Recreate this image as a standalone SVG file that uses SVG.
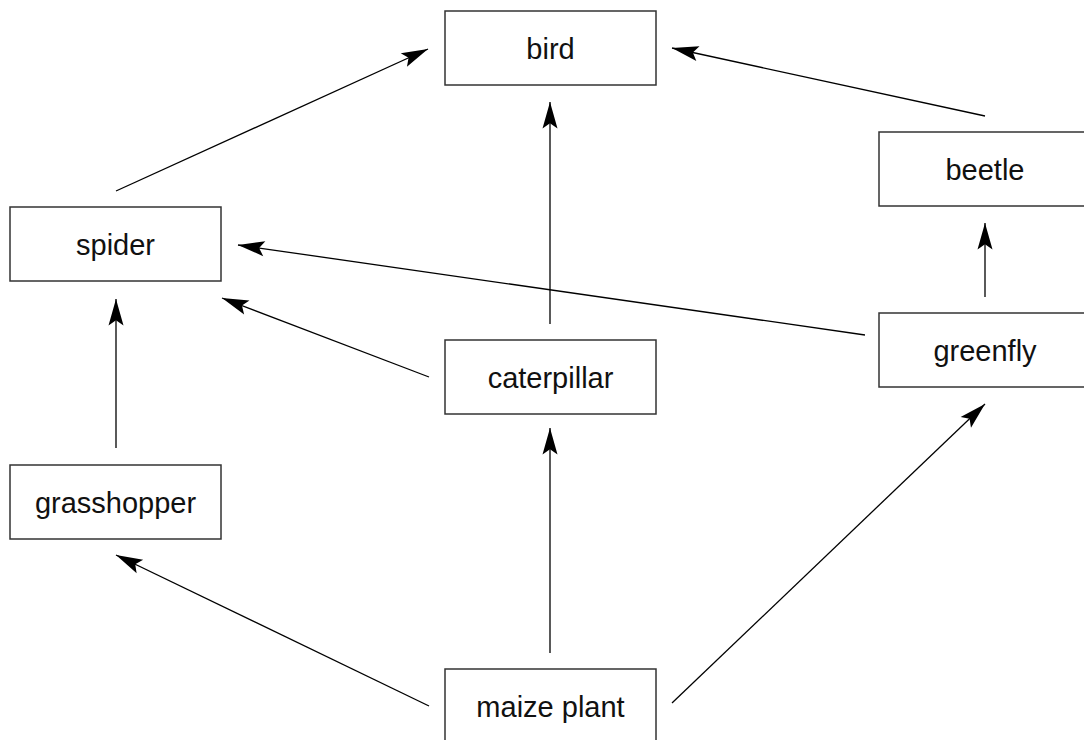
<svg xmlns="http://www.w3.org/2000/svg" width="1084" height="740" viewBox="0 0 1084 740">
<style>
.box{fill:#fff;stroke:#333;stroke-width:1.5}
.lbl{font-family:"Liberation Sans",Arial,Helvetica,sans-serif;font-size:29px;fill:#111;text-anchor:middle}
.edge{stroke:#000;stroke-width:1.3;fill:none;marker-end:url(#ah)}
</style>
<defs>
<marker id="ah" markerUnits="userSpaceOnUse" markerWidth="30" markerHeight="20" viewBox="-24 -8 26 16" refX="0" refY="0" orient="auto">
<path d="M0,0 L-23,-6.5 L-18.5,0 L-23,6.5 z" fill="#000"/>
</marker>
</defs>
<rect width="1084" height="740" fill="#fff"/>
<g id="connectors">
<line class="edge" x1="116" y1="191" x2="428" y2="49"/>
<line class="edge" x1="985" y1="116" x2="672" y2="48"/>
<line class="edge" x1="550" y1="324" x2="550" y2="102"/>
<line class="edge" x1="865" y1="335" x2="238" y2="245"/>
<line class="edge" x1="429" y1="377" x2="222" y2="298"/>
<line class="edge" x1="116" y1="448" x2="116" y2="299"/>
<line class="edge" x1="985" y1="297" x2="985" y2="223"/>
<line class="edge" x1="429" y1="706" x2="116" y2="555"/>
<line class="edge" x1="550" y1="653" x2="550" y2="428"/>
<line class="edge" x1="672" y1="703" x2="985" y2="404"/>
</g>
<g id="bird"><rect class="box" x="445" y="11" width="211" height="74"/><text class="lbl" x="550.5" y="58.5">bird</text></g>
<g id="spider"><rect class="box" x="10" y="207" width="211" height="74"/><text class="lbl" x="115.5" y="254.5">spider</text></g>
<g id="beetle"><rect class="box" x="879" y="132" width="212" height="74"/><text class="lbl" x="985" y="179.5">beetle</text></g>
<g id="greenfly"><rect class="box" x="879" y="313" width="212" height="74"/><text class="lbl" x="985" y="360.5">greenfly</text></g>
<g id="caterpillar"><rect class="box" x="445" y="340" width="211" height="74"/><text class="lbl" x="550.5" y="387.5">caterpillar</text></g>
<g id="grasshopper"><rect class="box" x="10" y="465" width="211" height="74"/><text class="lbl" x="115.5" y="512.5">grasshopper</text></g>
<g id="maize_plant"><rect class="box" x="445" y="669" width="211" height="80"/><text class="lbl" x="550.5" y="716.5">maize plant</text></g>
</svg>
